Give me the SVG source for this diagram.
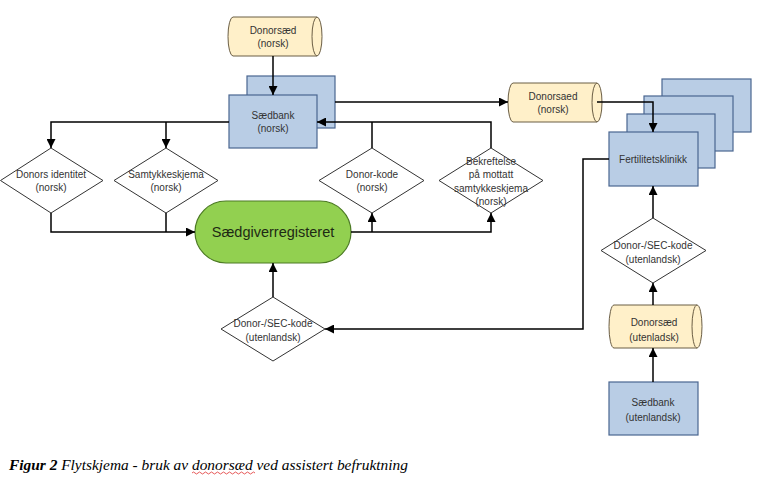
<svg xmlns="http://www.w3.org/2000/svg" width="772" height="490" viewBox="0 0 772 490">
<style>
.box{fill:#B9CDE5;stroke:#4A6690;stroke-width:1.2}
.cyl{fill:#FFF0C9;stroke:#6B5E45;stroke-width:1}
.dia{fill:#FFFFFF;stroke:#333333;stroke-width:1}
.term{fill:#92D050;stroke:#4C7A24;stroke-width:1.2}
.lbl{font-family:"Liberation Sans",Arial,sans-serif;font-size:10px;fill:#333333;text-anchor:middle;dominant-baseline:central}
.big{font-family:"Liberation Sans",Arial,sans-serif;font-size:14.5px;fill:#1E2A14;text-anchor:middle;dominant-baseline:central}
.con{fill:none;stroke:#000000;stroke-width:1.5}
.cap{font-family:"Liberation Serif","Times New Roman",serif;font-size:15.4px;font-style:italic;fill:#000000}
</style>
<defs>
<marker id="arr" markerUnits="userSpaceOnUse" markerWidth="9" markerHeight="9" viewBox="0 0 10 10" refX="10" refY="5" orient="auto">
<path d="M0,0 L10,5 L0,10 Z" fill="#000000"/>
</marker>
</defs>

<g id="donorsaed-norsk">
<path class="cyl" d="M233,17 L317,17 A5,19.5 0 0 1 317,56 L233,56 A5,19.5 0 0 1 233,17 Z"/>
<path class="cyl" d="M317,17 A5,19.5 0 0 0 317,56"/>
<text class="lbl" x="273" y="30">Donorsæd</text>
<text class="lbl" x="273" y="43">(norsk)</text>
</g>

<g id="saedbank-norsk">
<rect class="box" x="247" y="76" width="88" height="52"/>
<rect class="box" x="229" y="95" width="88" height="53"/>
<text class="lbl" x="273" y="115">Sædbank</text>
<text class="lbl" x="273" y="128">(norsk)</text>
</g>

<g id="donors-identitet">
<polygon class="dia" points="51,148 103,180.5 51,213 0.5,180.5"/>
<text class="lbl" x="51" y="174">Donors identitet</text>
<text class="lbl" x="51" y="187">(norsk)</text>
</g>

<g id="samtykkeskjema">
<polygon class="dia" points="166,148 218,180.5 166,213 114,180.5"/>
<text class="lbl" x="166" y="174">Samtykkeskjema</text>
<text class="lbl" x="166" y="187">(norsk)</text>
</g>

<g id="donor-kode">
<polygon class="dia" points="372,148 424,180.5 372,213 319,180.5"/>
<text class="lbl" x="372" y="174">Donor-kode</text>
<text class="lbl" x="372" y="187">(norsk)</text>
</g>

<g id="bekreftelse">
<polygon class="dia" points="491,148 543,180.5 491,213 439,180.5"/>
<text class="lbl" x="491" y="161">Bekreftelse</text>
<text class="lbl" x="491" y="174">på mottatt</text>
<text class="lbl" x="491" y="188">samtykkeskjema</text>
<text class="lbl" x="491" y="201">(norsk)</text>
</g>

<g id="saedgiverregisteret">
<rect class="term" x="195" y="201" width="156" height="62" rx="31" ry="31"/>
<text class="big" x="273" y="232">Sædgiverregisteret</text>
</g>

<g id="donor-sec-kode-venstre">
<polygon class="dia" points="273,297 325,329 273,361 221,329"/>
<text class="lbl" x="273" y="323">Donor-/SEC-kode</text>
<text class="lbl" x="273" y="337">(utenlandsk)</text>
</g>

<g id="donorsaed-mellom">
<path class="cyl" d="M513,83 L597,83 A5,19.5 0 0 1 597,122 L513,122 A5,19.5 0 0 1 513,83 Z"/>
<path class="cyl" d="M597,83 A5,19.5 0 0 0 597,122"/>
<text class="lbl" x="553" y="96">Donorsaed</text>
<text class="lbl" x="553" y="109">(norsk)</text>
</g>

<g id="fertilitetsklinikk">
<rect class="box" x="662" y="79" width="89" height="53"/>
<rect class="box" x="644" y="96" width="89" height="55"/>
<rect class="box" x="627" y="114" width="88" height="54"/>
<rect class="box" x="609" y="132" width="89" height="54"/>
<text class="lbl" x="653" y="159">Fertilitetsklinikk</text>
</g>

<g id="donor-sec-kode-hoyre">
<polygon class="dia" points="653,218 706,250.5 653,283 601,250.5"/>
<text class="lbl" x="653" y="245">Donor-/SEC-kode</text>
<text class="lbl" x="653" y="259">(utenlandsk)</text>
</g>

<g id="donorsaed-utenlandsk">
<path class="cyl" d="M614,305 L697,305 A5,21.5 0 0 1 697,348 L614,348 A5,21.5 0 0 1 614,305 Z"/>
<path class="cyl" d="M697,305 A5,21.5 0 0 0 697,348"/>
<text class="lbl" x="654" y="322">Donorsæd</text>
<text class="lbl" x="654" y="337">(utenladsk)</text>
</g>

<g id="saedbank-utenlandsk">
<rect class="box" x="609" y="382" width="89" height="53"/>
<text class="lbl" x="653" y="402">Sædbank</text>
<text class="lbl" x="653" y="417">(utenlandsk)</text>
</g>

<g id="connectors">
<path class="con" d="M273,56 L273,95" marker-end="url(#arr)"/>
<path class="con" d="M229,122 L51,122 L51,148" marker-end="url(#arr)"/>
<path class="con" d="M166,122 L166,148" marker-end="url(#arr)"/>
<path class="con" d="M51,213 L51,232 L195,232" marker-end="url(#arr)"/>
<path class="con" d="M166,213 L166,232"/>
<path class="con" d="M351,232 L491,232 L491,213" marker-end="url(#arr)"/>
<path class="con" d="M372,232 L372,213" marker-end="url(#arr)"/>
<path class="con" d="M491,148 L491,122 L317,122" marker-end="url(#arr)"/>
<path class="con" d="M372,148 L372,122"/>
<path class="con" d="M335,102 L508,102" marker-end="url(#arr)"/>
<path class="con" d="M597,102 L653,102 L653,132" marker-end="url(#arr)"/>
<path class="con" d="M609,159 L583,159 L583,329 L325,329" marker-end="url(#arr)"/>
<path class="con" d="M273,297 L273,263" marker-end="url(#arr)"/>
<path class="con" d="M653,218 L653,186" marker-end="url(#arr)"/>
<path class="con" d="M653,305 L653,283" marker-end="url(#arr)"/>
<path class="con" d="M653,382 L653,348" marker-end="url(#arr)"/>
</g>

<g id="caption">
<text class="cap" x="9" y="470"><tspan font-weight="bold">Figur 2</tspan> Flytskjema - bruk av donorsæd ved assistert befruktning</text>
<path d="M192,473 q1.5,-2 3,0 t3,0 t3,0 t3,0 t3,0 t3,0 t3,0 t3,0 t3,0 t3,0 t3,0 t3,0 t3,0 t3,0 t3,0 t3,0 t3,0 t3,0 t3,0 t3,0 t3,0" fill="none" stroke="#E03030" stroke-width="0.8"/>
</g>
</svg>
